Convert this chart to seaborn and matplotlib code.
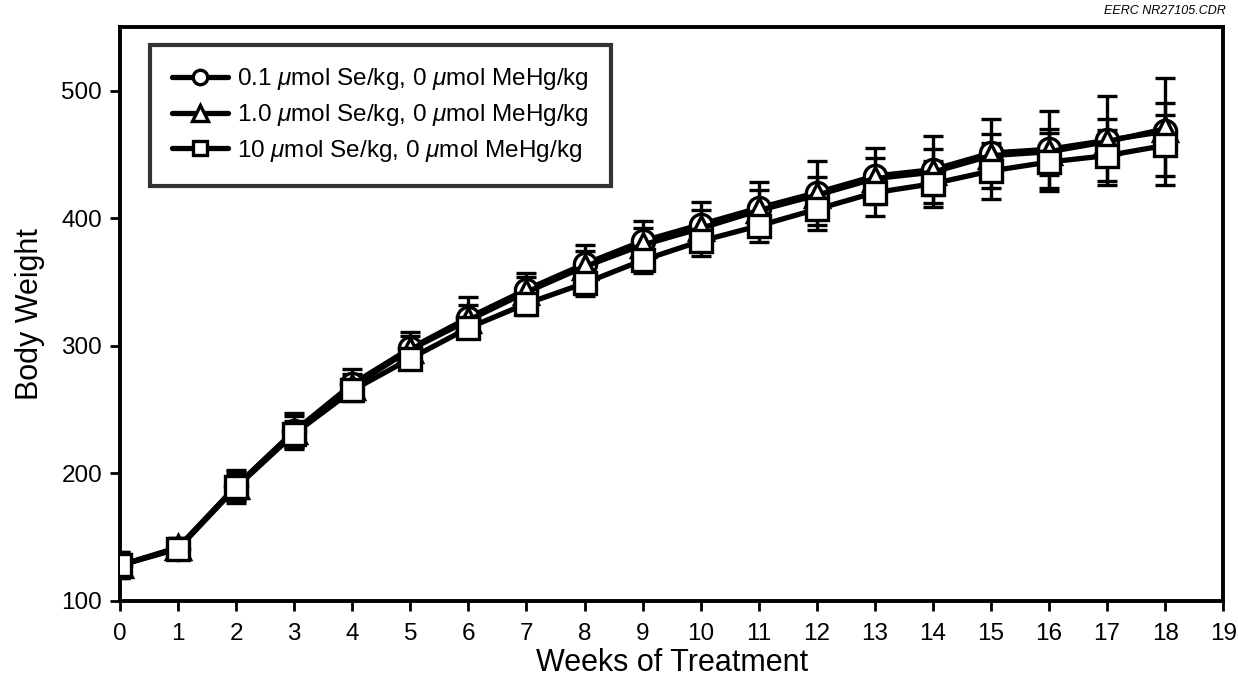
import numpy as np
import pandas as pd
import matplotlib
matplotlib.use("Agg")
import matplotlib.pyplot as plt
import seaborn as sns

# --- Data ---
weeks = list(range(0, 19))

se_01 = [128, 141, 190, 233, 270, 298, 322, 344, 364, 382, 395, 408, 420, 433, 438, 451, 454, 461, 468]
se_10 = [128, 142, 190, 233, 268, 297, 320, 342, 362, 379, 392, 406, 418, 431, 436, 449, 452, 460, 470]
se_100 = [128, 141, 189, 231, 265, 290, 314, 333, 349, 367, 382, 394, 407, 420, 427, 437, 444, 449, 457]

sd_01 = [10, 8, 13, 14, 12, 13, 16, 13, 15, 16, 18, 20, 25, 22, 26, 27, 30, 35, 42]
sd_10 = [9, 7, 11, 12, 10, 11, 12, 12, 12, 13, 14, 16, 14, 16, 18, 17, 18, 18, 20]
sd_100 = [10, 7, 10, 10, 8, 8, 8, 9, 10, 10, 12, 13, 16, 18, 18, 22, 23, 20, 24]

labels = [
    r"0.1 $\mu$mol Se/kg, 0 $\mu$mol MeHg/kg",
    r"1.0 $\mu$mol Se/kg, 0 $\mu$mol MeHg/kg",
    r"10 $\mu$mol Se/kg, 0 $\mu$mol MeHg/kg",
]
markers = ["o", "^", "s"]

sns.set_style("ticks")
plt.rcParams["font.family"] = ["Liberation Sans", "DejaVu Sans"]
plt.rcParams["mathtext.fontset"] = "custom"
plt.rcParams["mathtext.it"] = "Liberation Sans:italic"
plt.rcParams["mathtext.rm"] = "Liberation Sans"
plt.rcParams["text.color"] = "black"
plt.rcParams["axes.labelcolor"] = "black"
plt.rcParams["xtick.color"] = "black"
plt.rcParams["ytick.color"] = "black"

fig = plt.figure(figsize=(12.38, 6.86), dpi=100)
ax = fig.add_axes([0.097, 0.124, 0.891, 0.837])

series = [(se_01, sd_01), (se_10, sd_10), (se_100, sd_100)]
for i, ((vals, sd), lab, mk) in enumerate(zip(series, labels, markers)):
    df = pd.DataFrame({"week": weeks, "weight": vals})
    ax.errorbar(weeks, vals, yerr=sd, fmt="none", ecolor="black",
                elinewidth=2.4, capsize=7, capthick=2.4, zorder=1 + i * 0.1)
    sns.lineplot(data=df, x="week", y="weight", ax=ax, color="black",
                 linewidth=3.8, marker=mk, markersize=16 if mk != "^" else 17,
                 markerfacecolor="white", markeredgecolor="black",
                 markeredgewidth=2.4, label=lab, zorder=3 + i)

ax.set_xlim(0, 19)
ax.set_ylim(100, 550)
ax.set_xticks(range(0, 20))
ax.set_yticks([100, 200, 300, 400, 500])
ax.tick_params(axis="both", labelsize=17.5, width=2, length=7, direction="out",
               color="black", labelcolor="black", pad=6)
ax.tick_params(axis="x", pad=9)
for side in ["left", "bottom", "right", "top"]:
    ax.spines[side].set_visible(True)
    ax.spines[side].set_linewidth(2.8)
    ax.spines[side].set_color("black")

ax.set_xlabel("Weeks of Treatment", fontsize=22, labelpad=2)
ax.set_ylabel("Body Weight", fontsize=22, labelpad=12)

leg = ax.legend(loc="upper left", bbox_to_anchor=(0.027, 0.969), borderaxespad=0,
                fontsize=17.5, frameon=True, fancybox=False, edgecolor="black",
                handlelength=2.3, handletextpad=0.4, labelspacing=0.4,
                borderpad=0.9, markerscale=0.65)
leg.get_frame().set_linewidth(3.0)
for t in leg.get_texts():
    t.set_color("black")

fig.text(0.99, 0.975, "EERC NR27105.CDR", ha="right", va="bottom",
         fontsize=9, style="italic")

fig.savefig("out.png", dpi=100)
